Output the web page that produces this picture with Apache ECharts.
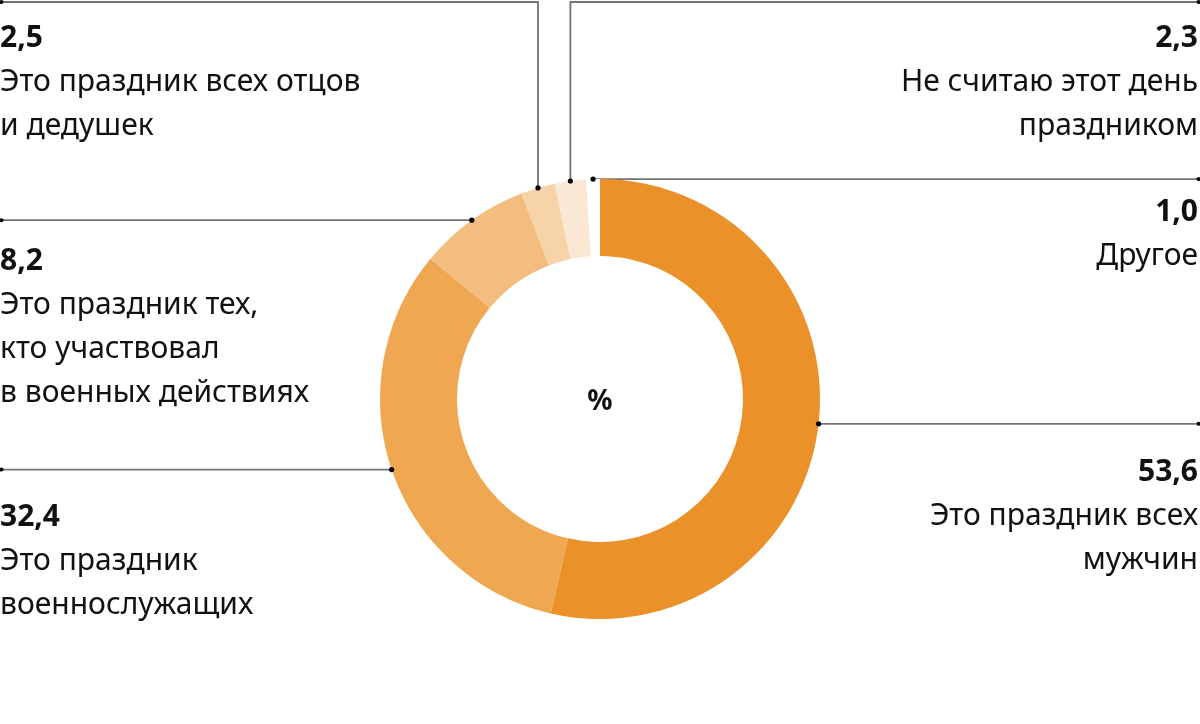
<!DOCTYPE html>
<html lang="ru">
<head>
<meta charset="utf-8">
<title>Отношение к празднику</title>
<script src="https://cdn.jsdelivr.net/npm/echarts@6/dist/echarts.min.js"></script>
<style>
  html, body { margin: 0; padding: 0; background: #fff; }
  #main { width: 1200px; height: 724px; }
</style>
</head>
<body>
<div id="main"></div>
<script>
// данные
var values = [53.6, 32.4, 8.2, 2.5, 2.3, 1.0];
var valueLabels = ['53,6', '32,4', '8,2', '2,5', '2,3', '1,0'];
var captions = [
  ['Это праздник всех', 'мужчин'],
  ['Это праздник', 'военнослужащих'],
  ['Это праздник тех,', 'кто участвовал', 'в военных действиях'],
  ['Это праздник всех отцов', 'и дедушек'],
  ['Не считаю этот день', 'праздником'],
  ['Другое']
];
var colors = ['#EB9129', '#EFA752', '#F3BD7F', '#F7D3A8', '#FBE8D4', '#FFFFFF'];

// где стоит подпись и как идёт выноска
var W = 1200, TOP_Y = 2;
var labelPos = [
  { side: 'right', top: 450 },
  { side: 'left', top: 495 },
  { side: 'left', top: 239 },
  { side: 'left', top: 16, up: true },
  { side: 'right', top: 16, up: true },
  { side: 'right', top: 190 }
];
var FONT = '"Noto Sans", "Open Sans", sans-serif';
var anchors = [];

function richFor(side) {
  return {
    v: { fontFamily: FONT, fontSize: 30, fontWeight: 'bold', lineHeight: 44, color: '#111', align: side },
    t: { fontFamily: FONT, fontSize: 30, lineHeight: 44, color: '#111', align: side }
  };
}

var pieData = values.map(function (v, i) {
  return {
    value: v,
    name: captions[i].join(' '),
    itemStyle: { color: colors[i] },
    label: { align: labelPos[i].side, rich: richFor(labelPos[i].side) }
  };
});

var myChart = echarts.init(document.getElementById('main'));

var option = {
  animation: false,
  title: {
    text: '%',
    left: 'center',
    top: 383,
    textStyle: { fontFamily: FONT, fontSize: 28, fontWeight: 'bold', color: '#111' }
  },
  series: [{
    type: 'pie',
    center: ['50%', 399],
    radius: [143, 220],
    startAngle: 90,
    clockwise: true,
    avoidLabelOverlap: false,
    silent: true,
    emphasis: { disabled: true },
    itemStyle: { borderWidth: 0 },
    label: {
      show: true,
      position: 'outside',
      formatter: function (p) {
        var i = p.dataIndex;
        var s = '{v|' + valueLabels[i] + '}';
        captions[i].forEach(function (c) { s += '\n{t|' + c + '}'; });
        return s;
      }
    },
    labelLine: {
      show: true,
      length: 10,
      length2: 10,
      lineStyle: { color: '#737373', width: 1.8 }
    },
    labelLayout: function (p) {
      var i = p.dataIndex, pos = labelPos[i];
      var a = p.labelLinePoints[0];
      var ex = pos.side === 'left' ? 0 : W;
      var pts;
      if (pos.up) {
        pts = [[a[0], a[1]], [a[0], TOP_Y], [ex, TOP_Y]];
      } else {
        pts = [[a[0], a[1]], [(a[0] + ex) / 2, a[1]], [ex, a[1]]];
      }
      anchors[i] = { a: [a[0], a[1]], e: pts[2] };
      return {
        x: pos.side === 'left' ? 0 : W - 2,
        y: pos.top,
        align: pos.side,
        verticalAlign: 'top',
        labelLinePoints: pts
      };
    },
    data: pieData
  }]
};
myChart.setOption(option);

// точки на концах выносок
var dots = [];
anchors.forEach(function (d) {
  dots.push({ type: 'circle', silent: true, z: 100, shape: { cx: d.a[0], cy: d.a[1], r: 2.6 }, style: { fill: '#000' } });
  dots.push({ type: 'circle', silent: true, z: 100, shape: { cx: d.e[0] === 0 ? 1.5 : W - 1.5, cy: d.e[1], r: 2 }, style: { fill: '#000' } });
});
myChart.setOption({ graphic: dots });
</script>
</body>
</html>
